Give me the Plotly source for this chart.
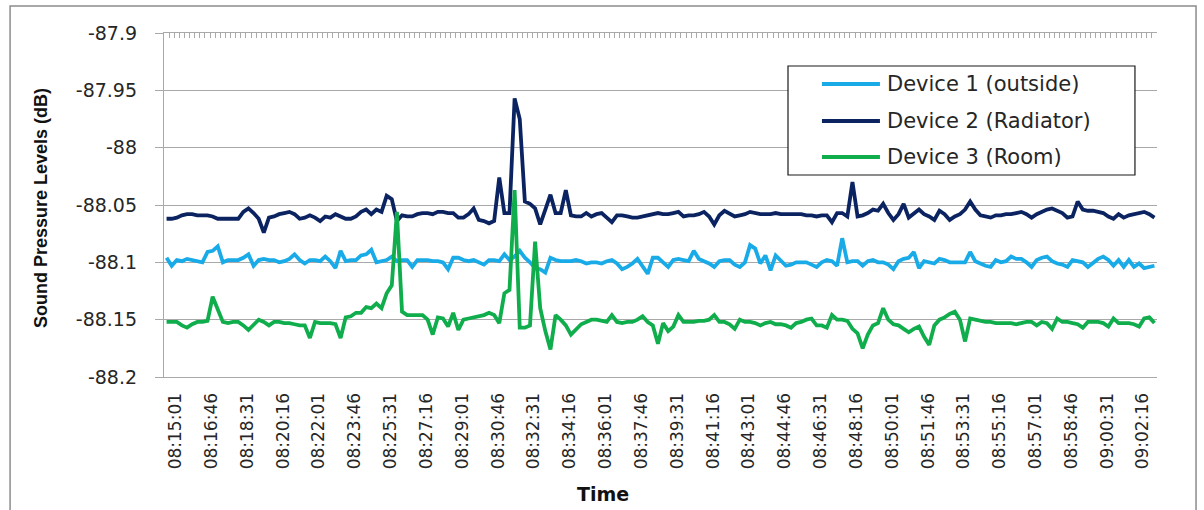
import datetime as dt
import plotly.graph_objects as go

# Sample clock: one reading every 15 seconds starting at 08:15:01
start_time = "08:15:01"
step_seconds = 15
n_samples = 194

tick_labels = [
    "08:15:01", "08:16:46", "08:18:31", "08:20:16", "08:22:01", "08:23:46",
    "08:25:31", "08:27:16", "08:29:01", "08:30:46", "08:32:31", "08:34:16",
    "08:36:01", "08:37:46", "08:39:31", "08:41:16", "08:43:01", "08:44:46",
    "08:46:31", "08:48:16", "08:50:01", "08:51:46", "08:53:31", "08:55:16",
    "08:57:01", "08:58:46", "09:00:31", "09:02:16",
]

y_tick_values = [-87.9, -87.95, -88.0, -88.05, -88.1, -88.15, -88.2]
y_tick_text = ["-87.9", "-87.95", "-88", "-88.05", "-88.1", "-88.15", "-88.2"]

device1_outside = [
    -88.096, -88.103, -88.098, -88.099, -88.097, -88.098, -88.099, -88.100, -88.091, -88.090,
    -88.086, -88.100, -88.098, -88.098, -88.098, -88.096, -88.093, -88.103, -88.098, -88.097,
    -88.098, -88.098, -88.100, -88.099, -88.097, -88.093, -88.098, -88.101, -88.098, -88.098,
    -88.099, -88.095, -88.099, -88.105, -88.090, -88.099, -88.098, -88.098, -88.094, -88.093,
    -88.089, -88.100, -88.099, -88.098, -88.095, -88.099, -88.098, -88.098, -88.104, -88.098,
    -88.098, -88.098, -88.099, -88.099, -88.100, -88.106, -88.096, -88.096, -88.098, -88.099,
    -88.098, -88.100, -88.102, -88.098, -88.098, -88.099, -88.093, -88.098, -88.095, -88.090,
    -88.096, -88.100, -88.105, -88.106, -88.109, -88.096, -88.098, -88.099, -88.099, -88.099,
    -88.098, -88.099, -88.101, -88.100, -88.100, -88.101, -88.099, -88.098, -88.101, -88.106,
    -88.104, -88.101, -88.097, -88.104, -88.110, -88.096, -88.096, -88.100, -88.104, -88.098,
    -88.097, -88.098, -88.099, -88.090, -88.097, -88.099, -88.101, -88.104, -88.099, -88.098,
    -88.098, -88.102, -88.104, -88.100, -88.085, -88.088, -88.101, -88.094, -88.107, -88.094,
    -88.098, -88.103, -88.102, -88.100, -88.100, -88.100, -88.102, -88.104, -88.100, -88.098,
    -88.099, -88.103, -88.079, -88.100, -88.099, -88.099, -88.103, -88.099, -88.098, -88.100,
    -88.100, -88.102, -88.106, -88.099, -88.097, -88.096, -88.091, -88.105, -88.099, -88.100,
    -88.101, -88.097, -88.098, -88.100, -88.100, -88.100, -88.100, -88.091, -88.099, -88.101,
    -88.103, -88.104, -88.098, -88.100, -88.099, -88.095, -88.097, -88.097, -88.100, -88.104,
    -88.098, -88.096, -88.095, -88.099, -88.101, -88.102, -88.104, -88.098, -88.099, -88.100,
    -88.104, -88.100, -88.097, -88.095, -88.098, -88.103, -88.098, -88.104, -88.098, -88.104,
    -88.101, -88.105, -88.104, -88.103,
]

device2_radiator = [
    -88.062, -88.062, -88.061, -88.059, -88.058, -88.058, -88.059, -88.059, -88.059, -88.060,
    -88.062, -88.062, -88.062, -88.062, -88.062, -88.056, -88.053, -88.057, -88.062, -88.074,
    -88.061, -88.060, -88.058, -88.057, -88.056, -88.058, -88.062, -88.061, -88.059, -88.061,
    -88.064, -88.060, -88.061, -88.058, -88.060, -88.062, -88.062, -88.060, -88.056, -88.054,
    -88.058, -88.054, -88.056, -88.042, -88.045, -88.064, -88.059, -88.060, -88.060, -88.058,
    -88.057, -88.057, -88.058, -88.056, -88.056, -88.057, -88.057, -88.061, -88.061, -88.058,
    -88.053, -88.063, -88.064, -88.066, -88.064, -88.026, -88.057, -88.057, -87.957, -87.975,
    -88.047, -88.049, -88.053, -88.067, -88.054, -88.041, -88.057, -88.057, -88.037, -88.059,
    -88.060, -88.060, -88.057, -88.060, -88.058, -88.057, -88.061, -88.065, -88.059, -88.059,
    -88.060, -88.061, -88.061, -88.060, -88.059, -88.058, -88.057, -88.058, -88.058, -88.057,
    -88.056, -88.060, -88.059, -88.059, -88.058, -88.056, -88.060, -88.067, -88.059, -88.055,
    -88.058, -88.060, -88.059, -88.058, -88.056, -88.057, -88.058, -88.058, -88.058, -88.057,
    -88.058, -88.058, -88.058, -88.058, -88.058, -88.059, -88.059, -88.060, -88.059, -88.059,
    -88.065, -88.057, -88.057, -88.060, -88.030, -88.060, -88.059, -88.057, -88.054, -88.055,
    -88.049, -88.057, -88.063, -88.058, -88.049, -88.061, -88.058, -88.054, -88.058, -88.060,
    -88.063, -88.055, -88.058, -88.063, -88.060, -88.058, -88.054, -88.047, -88.054, -88.059,
    -88.060, -88.061, -88.059, -88.059, -88.058, -88.058, -88.057, -88.056, -88.058, -88.061,
    -88.058, -88.056, -88.054, -88.053, -88.055, -88.057, -88.061, -88.060, -88.047, -88.054,
    -88.055, -88.055, -88.056, -88.057, -88.060, -88.062, -88.058, -88.061, -88.059, -88.058,
    -88.057, -88.056, -88.058, -88.061,
]

device3_room = [
    -88.152, -88.152, -88.152, -88.155, -88.157, -88.154, -88.152, -88.152, -88.151, -88.130,
    -88.140, -88.152, -88.153, -88.152, -88.152, -88.155, -88.159, -88.154, -88.150, -88.152,
    -88.155, -88.152, -88.152, -88.153, -88.153, -88.154, -88.155, -88.155, -88.166, -88.152,
    -88.153, -88.153, -88.153, -88.154, -88.166, -88.148, -88.147, -88.144, -88.144, -88.139,
    -88.140, -88.136, -88.140, -88.127, -88.120, -88.056, -88.143, -88.146, -88.146, -88.146,
    -88.146, -88.150, -88.163, -88.148, -88.149, -88.156, -88.144, -88.159, -88.150, -88.149,
    -88.148, -88.147, -88.146, -88.144, -88.146, -88.153, -88.127, -88.124, -88.037, -88.157,
    -88.157, -88.155, -88.082, -88.140, -88.160, -88.176, -88.146, -88.150, -88.155, -88.163,
    -88.158, -88.154, -88.152, -88.150, -88.150, -88.151, -88.152, -88.146, -88.152, -88.153,
    -88.152, -88.152, -88.150, -88.147, -88.152, -88.155, -88.171, -88.153, -88.160, -88.156,
    -88.146, -88.152, -88.152, -88.152, -88.151, -88.151, -88.150, -88.146, -88.152, -88.152,
    -88.154, -88.158, -88.150, -88.152, -88.152, -88.153, -88.155, -88.153, -88.152, -88.154,
    -88.154, -88.155, -88.157, -88.153, -88.152, -88.150, -88.149, -88.155, -88.155, -88.157,
    -88.146, -88.150, -88.150, -88.151, -88.158, -88.162, -88.175, -88.163, -88.155, -88.153,
    -88.140, -88.150, -88.154, -88.155, -88.158, -88.161, -88.158, -88.156, -88.165, -88.172,
    -88.155, -88.150, -88.148, -88.145, -88.143, -88.150, -88.169, -88.149, -88.150, -88.151,
    -88.152, -88.152, -88.153, -88.153, -88.153, -88.153, -88.154, -88.153, -88.152, -88.152,
    -88.155, -88.152, -88.153, -88.158, -88.149, -88.152, -88.152, -88.153, -88.154, -88.157,
    -88.152, -88.152, -88.152, -88.153, -88.156, -88.149, -88.153, -88.153, -88.153, -88.154,
    -88.156, -88.149, -88.148, -88.153,
]

series = [
    ("Device 1 (outside)", device1_outside, "#18ABE8"),
    ("Device 2 (Radiator)", device2_radiator, "#0B2461"),
    ("Device 3 (Room)", device3_room, "#10AD4C"),
]

t0 = dt.datetime.strptime(start_time, "%H:%M:%S")
times = [(t0 + dt.timedelta(seconds=step_seconds * k)).strftime("%H:%M:%S")
         for k in range(n_samples)]

grid_col = "#A9A9A9"
text_col = "#262626"
base_font = "DejaVu Sans, Verdana, sans-serif"

fig = go.Figure()
for name, vals, col in series:
    fig.add_trace(go.Scatter(
        x=times, y=vals, name=name, mode="lines",
        line=dict(color=col, width=3.8), showlegend=False,
    ))

# Empty trace that brings up the top axis carrying the per-sample tick marks
fig.add_trace(go.Scatter(x=[], y=[], xaxis="x2", yaxis="y",
                         showlegend=False, hoverinfo="skip"))

# Boxed legend in the upper right of the plot area
legend_box = dict(x0=0.6284, x1=0.9778, y0=0.5872, y1=0.9041)
legend_rows = [0.8517, 0.7442, 0.6395]
sample_x = (0.6626, 0.7210)
label_x = 0.7261

shapes = [
    dict(type="rect", xref="paper", yref="paper",
         x0=-0.155, x1=1.0393, y0=-0.42, y1=1.0785,
         line=dict(color="#8C8C8C", width=1.5), layer="below"),
    dict(type="rect", xref="paper", yref="paper", fillcolor="white",
         line=dict(color="#1A1A1A", width=1.2), layer="above", **legend_box),
]
annotations = [
    dict(text="<b>Sound Pressure Levels (dB)</b>", textangle=-90,
         xref="paper", yref="paper", x=-0.1239, y=0.491,
         xanchor="center", yanchor="middle", showarrow=False,
         font=dict(family="Liberation Sans, Arial, sans-serif", size=18,
                   color="#111111")),
    dict(text="<b>Time</b>", xref="paper", yref="paper",
         x=0.442, y=-0.340, xanchor="center", yanchor="middle",
         showarrow=False,
         font=dict(family=base_font, size=19, color="#111111")),
]
for (name, _, col), ry in zip(series, legend_rows):
    shapes.append(dict(type="line", xref="paper", yref="paper",
                       x0=sample_x[0], x1=sample_x[1], y0=ry, y1=ry,
                       line=dict(color=col, width=4), layer="above"))
    annotations.append(dict(text=name, xref="paper", yref="paper",
                            x=label_x, y=ry, xanchor="left", yanchor="middle",
                            showarrow=False,
                            font=dict(family=base_font, size=21, color=text_col)))

fig.update_layout(
    width=1204, height=510,
    margin=dict(l=164, r=47, t=33, b=133),
    paper_bgcolor="white", plot_bgcolor="white",
    font=dict(family=base_font, color=text_col),
    showlegend=False,
    xaxis=dict(
        type="category", range=[-0.5, n_samples - 0.5],
        tickmode="array", tickvals=tick_labels, ticktext=tick_labels,
        tickangle=-90, tickfont=dict(size=17, family=base_font, color=text_col),
        showgrid=False, zeroline=False,
        showline=True, linecolor=grid_col, linewidth=1.3,
        ticks="", ticklabelstandoff=8, ticklabelshift=9,
    ),
    xaxis2=dict(
        overlaying="x", anchor="y", side="top", type="linear",
        range=[-0.5, n_samples - 0.5],
        tickmode="array", tickvals=[k - 0.5 for k in range(n_samples + 1)],
        ticks="inside", ticklen=5, tickwidth=1, tickcolor=grid_col,
        showticklabels=False, showgrid=False, zeroline=False,
        showline=True, linecolor=grid_col, linewidth=1.3,
    ),
    yaxis=dict(
        range=[-88.2, -87.9], tickmode="array",
        tickvals=y_tick_values, ticktext=y_tick_text,
        tickfont=dict(size=19, family=base_font, color=text_col),
        showgrid=True, gridcolor=grid_col, gridwidth=1.3,
        showline=True, linecolor=grid_col, linewidth=1.3,
        ticks="outside", ticklen=8, tickcolor=grid_col, tickwidth=1.3,
        zeroline=False, ticklabelstandoff=14,
    ),
    shapes=shapes,
    annotations=annotations,
)

fig.write_html("out.html")
